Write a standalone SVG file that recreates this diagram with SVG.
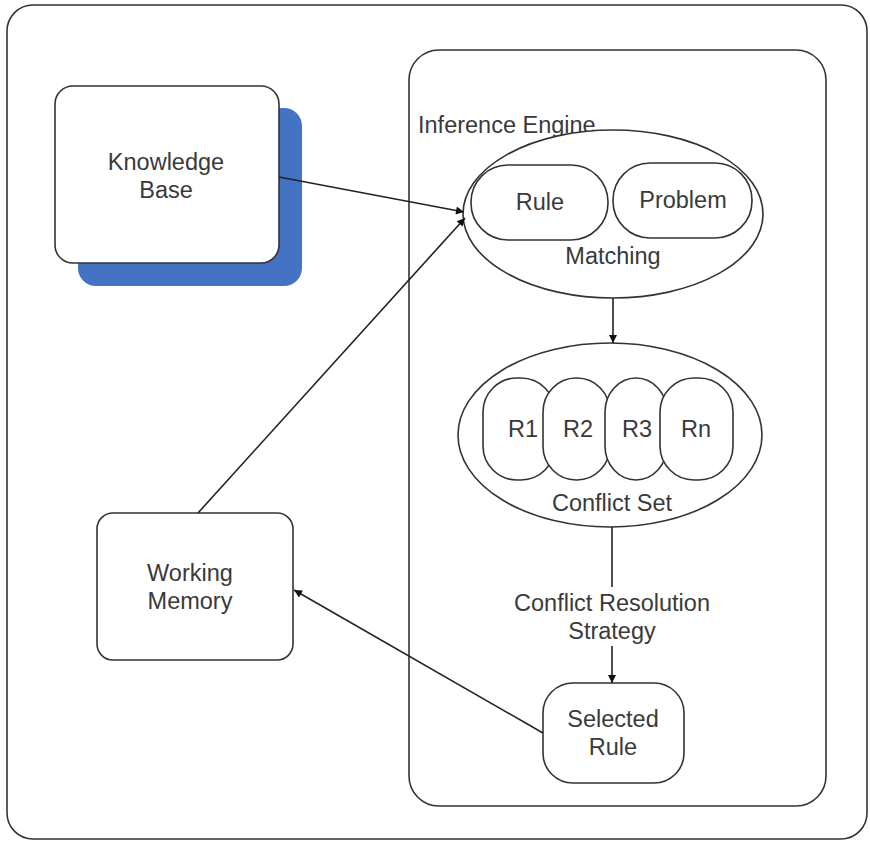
<svg xmlns="http://www.w3.org/2000/svg" width="870" height="842" viewBox="0 0 870 842">
  <style>
    .box { fill: #ffffff; stroke: #333333; stroke-width: 1.6; }
    .lbl { font-family: "Liberation Sans", Arial, sans-serif; font-size: 23.5px; fill: #3a3a3a; text-anchor: middle; }
    .edge { stroke: #222222; stroke-width: 1.6; fill: none; marker-end: url(#arrow); }
  </style>
  <defs>
    <marker id="arrow" viewBox="0 0 10 10" refX="10" refY="5" markerWidth="9" markerHeight="8" orient="auto" markerUnits="userSpaceOnUse">
      <path d="M0,0 L10,5 L0,10 z" fill="#111111"/>
    </marker>
  </defs>

  <rect width="870" height="842" fill="#ffffff"/>

  <!-- outer frame -->
  <g id="system">
    <rect class="box" x="7" y="5" width="860" height="834" rx="26" ry="26"/>
  </g>

  <!-- inference engine container -->
  <g id="inference-engine">
    <rect class="box" x="409" y="50" width="417" height="756" rx="30" ry="30"/>
    <text class="lbl" x="418" y="133" style="text-anchor:start">Inference Engine</text>
  </g>

  <!-- knowledge base with shadow -->
  <g id="knowledge-base">
    <rect x="78" y="108" width="224" height="178" rx="18" ry="18" fill="#4472c4"/>
    <rect class="box" x="55" y="86" width="224" height="177" rx="18" ry="18"/>
    <text class="lbl" x="166" y="170">Knowledge</text>
    <text class="lbl" x="166" y="198">Base</text>
  </g>

  <!-- matching stage -->
  <g id="matching">
    <ellipse class="box" cx="613" cy="214" rx="150" ry="84"/>
    <rect class="box" x="471" y="165" width="137" height="75" rx="37" ry="37"/>
    <rect class="box" x="613" y="163" width="139" height="75" rx="37" ry="37"/>
    <text class="lbl" x="540" y="210">Rule</text>
    <text class="lbl" x="683" y="208">Problem</text>
    <text class="lbl" x="613" y="264">Matching</text>
  </g>

  <!-- conflict set -->
  <g id="conflict-set">
    <ellipse class="box" cx="610" cy="435" rx="152" ry="92"/>
    <rect class="box" x="483" y="378" width="72" height="102" rx="34" ry="34"/>
    <rect class="box" x="543" y="378" width="67" height="102" rx="33" ry="34"/>
    <rect class="box" x="605" y="378" width="62" height="102" rx="31" ry="34"/>
    <rect class="box" x="660" y="378" width="73" height="102" rx="34" ry="34"/>
    <text class="lbl" x="523" y="437">R1</text>
    <text class="lbl" x="578" y="437">R2</text>
    <text class="lbl" x="637" y="437">R3</text>
    <text class="lbl" x="696" y="437">Rn</text>
    <text class="lbl" x="612" y="511">Conflict Set</text>
  </g>

  <!-- selected rule -->
  <g id="selected-rule">
    <rect class="box" x="543" y="683" width="141" height="100" rx="30" ry="30"/>
    <text class="lbl" x="613" y="727">Selected</text>
    <text class="lbl" x="613" y="755">Rule</text>
  </g>

  <!-- working memory -->
  <g id="working-memory">
    <rect class="box" x="97" y="513" width="196" height="147" rx="16" ry="16"/>
    <text class="lbl" x="190" y="581">Working</text>
    <text class="lbl" x="190" y="609">Memory</text>
  </g>

  <!-- connectors -->
  <g id="connectors">
    <line class="edge" x1="279" y1="177" x2="464" y2="212"/>
    <line class="edge" x1="198" y1="513" x2="465" y2="218"/>
    <line class="edge" x1="613" y1="298" x2="613" y2="343"/>
    <line x1="612" y1="527" x2="612" y2="587" stroke="#222222" stroke-width="1.6"/>
    <line class="edge" x1="612" y1="646" x2="612" y2="683"/>
    <line class="edge" x1="543" y1="733" x2="294" y2="590"/>
    <text class="lbl" x="612" y="611">Conflict Resolution</text>
    <text class="lbl" x="612" y="639">Strategy</text>
  </g>
</svg>
